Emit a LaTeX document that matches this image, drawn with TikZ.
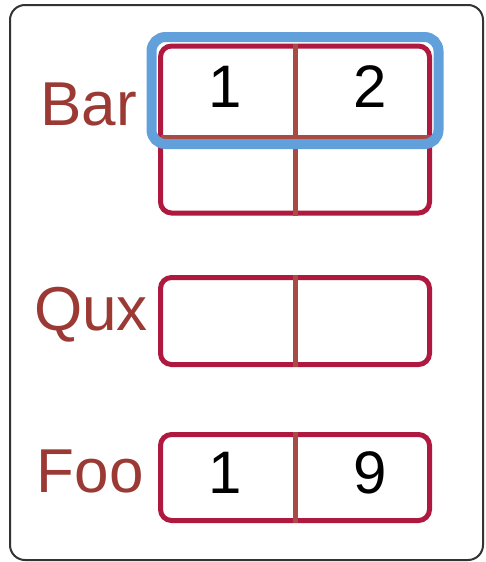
\documentclass[tikz,border=0pt]{standalone}
\usepackage{fontspec}
\setmainfont{Liberation Sans}
\usetikzlibrary{calc}
\definecolor{framegray}{HTML}{333333}
\definecolor{boxred}{HTML}{B0193F}
\definecolor{divbrown}{HTML}{A84B45}
\definecolor{selblue}{HTML}{62A0DB}
\definecolor{labred}{HTML}{9B3A35}
\tikzset{
  frame/.style={draw=framegray, line width=2pt, rounded corners=15pt, minimum width=473pt, minimum height=555pt, inner sep=0pt},
  cellbox/.style={draw=boxred, line width=5pt, rounded corners=11pt, minimum width=269pt, inner sep=0pt},
  divider/.style={draw=divbrown, line width=5pt},
  selbox/.style={draw=selblue, line width=10pt, rounded corners=14pt, minimum width=287pt, minimum height=107pt, inner sep=0pt},
  lab/.style={text=labred, font=\fontsize{62}{62}\selectfont, inner sep=0pt, anchor=base east},
  digit/.style={text=black, font=\fontsize{60}{60}\selectfont, inner sep=0pt, anchor=base},
}
\begin{document}
\begin{tikzpicture}[x=1pt,y=-1pt]
\useasboundingbox (0,0) rectangle (485,562);
\node[frame] (frame) at (246.5,282.5) {};
% Bar
\node[cellbox, minimum height=167pt] (barbox) at (295,129.5) {};
\coordinate (barL) at ($(barbox.north west)!0.544!(barbox.south west)$);
\coordinate (barR) at ($(barbox.north east)!0.544!(barbox.south east)$);
\draw[divider] ($(barL)+(3,0)$) -- ($(barR)+(-1,0)$);
\draw[divider] (barbox.north) -- (barbox.south);
\node[lab] (barlab) at (137,125) {Bar};
\node[digit] (bar1) at (225,107) {1};
\node[digit] (bar2) at (370,107) {2};
% Qux
\node[cellbox, minimum height=87pt] (quxbox) at (295,321) {};
\draw[divider] (quxbox.north) -- (quxbox.south);
\node[lab] (quxlab) at (148,330) {Qux};
% Foo
\node[cellbox, minimum height=86pt] (foobox) at (295,477.5) {};
\draw[divider] (foobox.north) -- (foobox.south);
\node[lab] (foolab) at (144,492) {Foo};
\node[digit] (foo1) at (225,493) {1};
\node[digit] (foo9) at (370,493) {9};
% selection
\node[selbox] (sel) at (295,90.5) {};
\end{tikzpicture}
\end{document}
